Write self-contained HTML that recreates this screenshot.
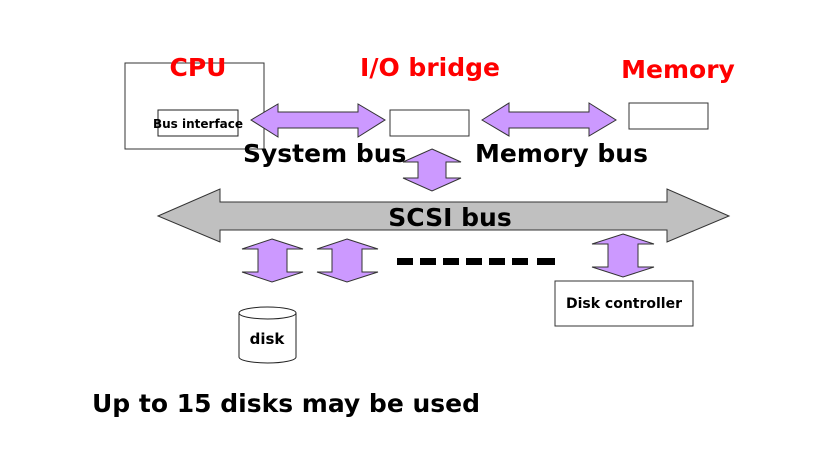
<!DOCTYPE html>
<html><head><style>
html,body{margin:0;padding:0;background:#fff;}
svg{display:block;}
text{font-family:"DejaVu Sans","Liberation Sans",sans-serif;font-weight:bold;}
</style></head><body>
<svg width="829" height="472" viewBox="0 0 829 472" xmlns="http://www.w3.org/2000/svg">
<rect x="125" y="63" width="139" height="86" fill="none" stroke="#333" stroke-width="1"/>
<rect x="158" y="110" width="80" height="26" fill="#fff" stroke="#222" stroke-width="1"/>
<text x="198" y="128" font-size="12" text-anchor="middle">Bus interface</text>
<polygon points="251,120 278,104 278,112 358,112 358,104 385,120 358,137 358,128 278,128 278,137" fill="#cc99ff" stroke="#333" stroke-width="1"/>
<rect x="390" y="110" width="79" height="26" fill="#fff" stroke="#333" stroke-width="1"/>
<polygon points="482,120 509,103 509,112 589,112 589,103 616,120 589,136 589,128 509,128 509,136" fill="#cc99ff" stroke="#333" stroke-width="1"/>
<rect x="629" y="103" width="79" height="26" fill="#fff" stroke="#333" stroke-width="1"/>
<polygon points="432,149 461,162 446,162 446,178 461,178 432,191 403,178 418,178 418,162 403,162" fill="#cc99ff" stroke="#333" stroke-width="1"/>
<polygon points="158,216 220,189 220,202 667,202 667,189 729,216 667,242 667,230 220,230 220,242" fill="#c0c0c0" stroke="#333" stroke-width="1"/>
<polygon points="272,239 303,249 287,249 287,272 303,272 272,282 242,272 258,272 258,249 242,249" fill="#cc99ff" stroke="#333" stroke-width="1"/>
<polygon points="347,239 378,249 362,249 362,272 378,272 347,282 317,272 332,272 332,249 317,249" fill="#cc99ff" stroke="#333" stroke-width="1"/>
<polygon points="623,234 654,244 638,244 638,267 654,267 623,277 592,267 608,267 608,244 592,244" fill="#cc99ff" stroke="#333" stroke-width="1"/>
<g fill="#000">
<rect x="397" y="258" width="16" height="7"/><rect x="420" y="258" width="16" height="7"/><rect x="443" y="258" width="16" height="7"/><rect x="466" y="258" width="16" height="7"/><rect x="489" y="258" width="16" height="7"/><rect x="512" y="258" width="16" height="7"/><rect x="537" y="258" width="18" height="7"/>
</g>
<rect x="555" y="281" width="138" height="45" fill="#fff" stroke="#333" stroke-width="1"/>
<text x="624" y="308" font-size="14" text-anchor="middle">Disk controller</text>
<path d="M239,313 L239,357 A28.5,6 0 0 0 296,357 L296,313" fill="#fff" stroke="#222" stroke-width="1"/>
<ellipse cx="267.5" cy="313" rx="28.5" ry="6" fill="#fff" stroke="#222" stroke-width="1"/>
<text x="267" y="344" font-size="15" text-anchor="middle">disk</text>
<text x="198" y="76" font-size="25" fill="#ff0000" text-anchor="middle">CPU</text>
<text x="430" y="76" font-size="25" fill="#ff0000" text-anchor="middle">I/O bridge</text>
<text x="678" y="78" font-size="25" fill="#ff0000" text-anchor="middle">Memory</text>
<text x="243" y="162" font-size="25">System bus</text>
<text x="475" y="162" font-size="25">Memory bus</text>
<text x="450" y="226" font-size="25" text-anchor="middle">SCSI bus</text>
<text x="92" y="412" font-size="25">Up to 15 disks may be used</text>
</svg>
</body></html>
